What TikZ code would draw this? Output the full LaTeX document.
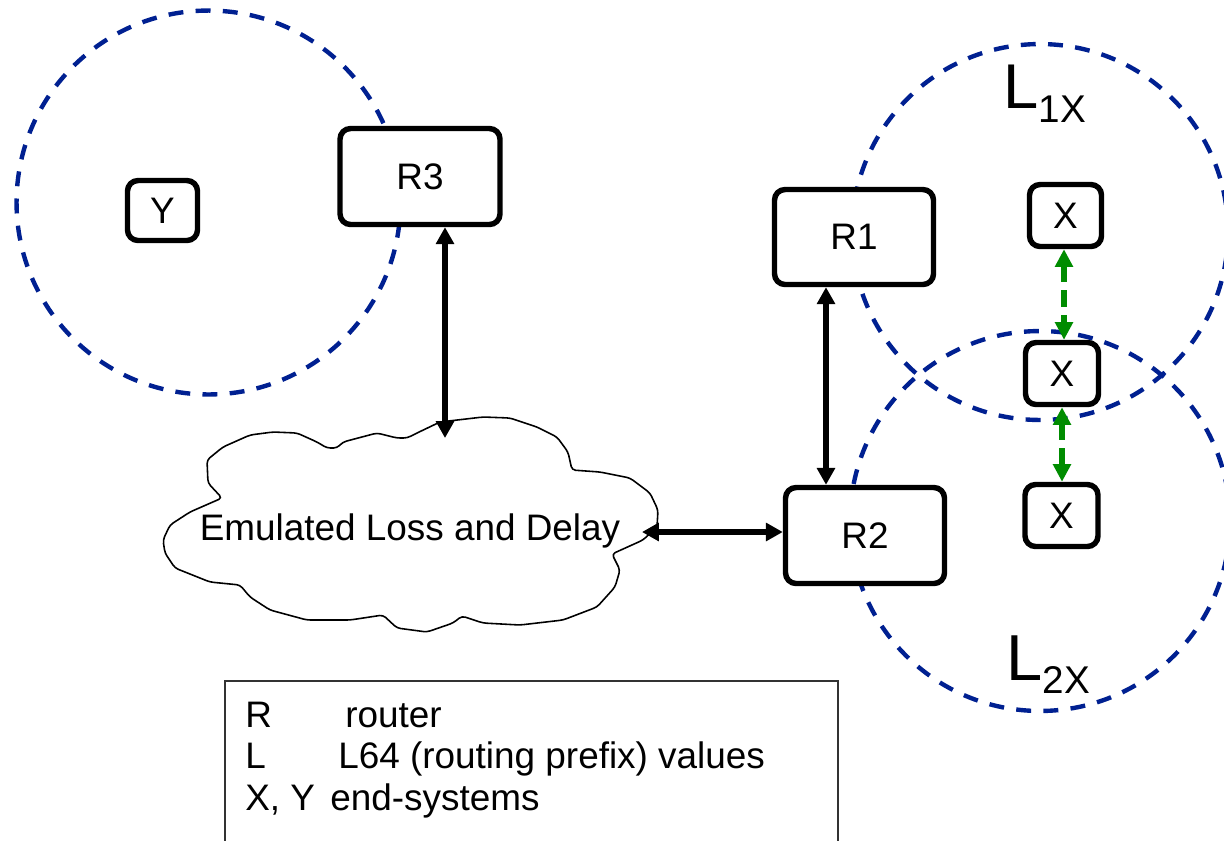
\documentclass[tikz,border=0pt]{standalone}
\usepackage{fontspec}
\setmainfont{Liberation Sans}
\usetikzlibrary{arrows.meta}
\definecolor{ringblue}{RGB}{0,32,145}
\definecolor{linkgreen}{RGB}{0,140,0}
\begin{document}
\begin{tikzpicture}[x=0.02cm,y=-0.02cm,
  ring/.style={draw=ringblue, line width=2.5pt, dash pattern=on 8.5pt off 7pt},
  box/.style={draw, line width=3.1pt, rounded corners=6pt, fill=white, inner sep=0pt,
    font=\fontsize{21}{25}\selectfont},
  arr/.style={line width=2.9pt,
    {Triangle[length=9.6pt,width=10pt]}-{Triangle[length=9.6pt,width=10pt]}},
  garr/.style={draw=linkgreen, line width=3.1pt, dash pattern=on 9.5pt off 4.5pt,
    {Triangle[length=10pt,width=9.8pt]}-{Triangle[length=10pt,width=9.8pt]}},
  legtext/.style={anchor=base west, inner sep=0pt, font=\fontsize{21}{25}\selectfont}]
\useasboundingbox (0,0) rectangle (1224,840);

% L64 rings
\draw[ring] (208.5,202.5) circle (3.84cm);
\draw[ring] (1040,232) circle (3.76cm);
\draw[ring] (1040,521) circle (3.8cm);

% cloud
\draw[fill=white, line width=0.9pt, rounded corners=2pt]
  (440,422) -- (483,417) -- (510,418) -- (537,427) -- (557,437) -- (568,452) --
  (572,470) -- (600,472) -- (630,478) -- (650,493) -- (658,510) -- (657,527) --
  (643,540) -- (612,554) -- (620,570) -- (615,587) -- (597,607) -- (563,620) --
  (520,625) -- (483,623) -- (462,616) -- (453,623) -- (427,632) -- (397,628) --
  (383,615) -- (350,620) -- (307,620) -- (270,610) -- (250,597) -- (240,585) --
  (210,582) -- (175,568) -- (165,553) -- (163,540) -- (170,525) -- (190,512) --
  (222,498) -- (208,483) -- (207,460) -- (223,447) -- (250,435) -- (273,432) --
  (297,433) -- (317,442) -- (327,448) -- (337,448) -- (343,442) -- (377,433) --
  (397,438) -- (407,438) -- (417,433) -- cycle;
\node[anchor=base, inner sep=0pt, font=\fontsize{21}{25}\selectfont] (cloud) at (410,540)
  {Emulated Loss and Delay};
\coordinate (cloudtop) at (445,438);
\coordinate (cloudright) at (642,532);

% boxes
\node[box, minimum width=3.2cm, minimum height=1.92cm] (R3) at (420,176.5) {R3};
\node[box, minimum width=3.18cm, minimum height=1.9cm] (R1) at (854,237) {R1};
\node[box, minimum width=3.18cm, minimum height=1.92cm] (R2) at (865,535.5) {R2};
\node[box, minimum width=1.4cm, minimum height=1.2cm] (Y) at (162.5,210.5) {Y};
\node[box, minimum width=1.44cm, minimum height=1.24cm] (X1) at (1065.5,215.5) {X};
\node[box, minimum width=1.46cm, minimum height=1.24cm] (X2) at (1062,373.5) {X};
\node[box, minimum width=1.46cm, minimum height=1.24cm] (X3) at (1061.5,515.5) {X};

% connectors
\coordinate (a1) at (826,0);
\coordinate (g1) at (1064,0);
\coordinate (g2) at (1062,0);
\draw[arr] (R3.south -| cloudtop) -- (cloudtop);
\draw[arr] (R1.south -| a1) -- (R2.north -| a1);
\draw[arr] (cloudright) -- (R2.west |- cloudright);
\draw[garr] (X1.south -| g1) -- (X2.north -| g1);
\draw[garr] (X2.south -| g2) -- (X3.north -| g2);

% ring labels
\node[anchor=base west, inner sep=0pt, font=\fontsize{36}{40}\selectfont] (L1) at (1003,108)
  {L\raisebox{-8.5pt}{\fontsize{22}{24}\selectfont 1X}};
\node[anchor=base west, inner sep=0pt, font=\fontsize{37}{40}\selectfont] (L2) at (1006,680)
  {L\raisebox{-7.4pt}{\fontsize{22}{24}\selectfont 2X}};

% legend
\draw[line width=0.8pt, draw=black!80] (225,681) rectangle (838,850);
\node[legtext] (k1) at (245,727) {R};
\node[legtext] (v1) at (345,727) {router};
\node[legtext] (k2) at (245,768) {L};
\node[legtext] (v2) at (338,768) {L64 (routing prefix) values};
\node[legtext] (k3) at (245,810) {X, Y};
\node[legtext] (v3) at (330,810) {end-systems};
\end{tikzpicture}
\end{document}
